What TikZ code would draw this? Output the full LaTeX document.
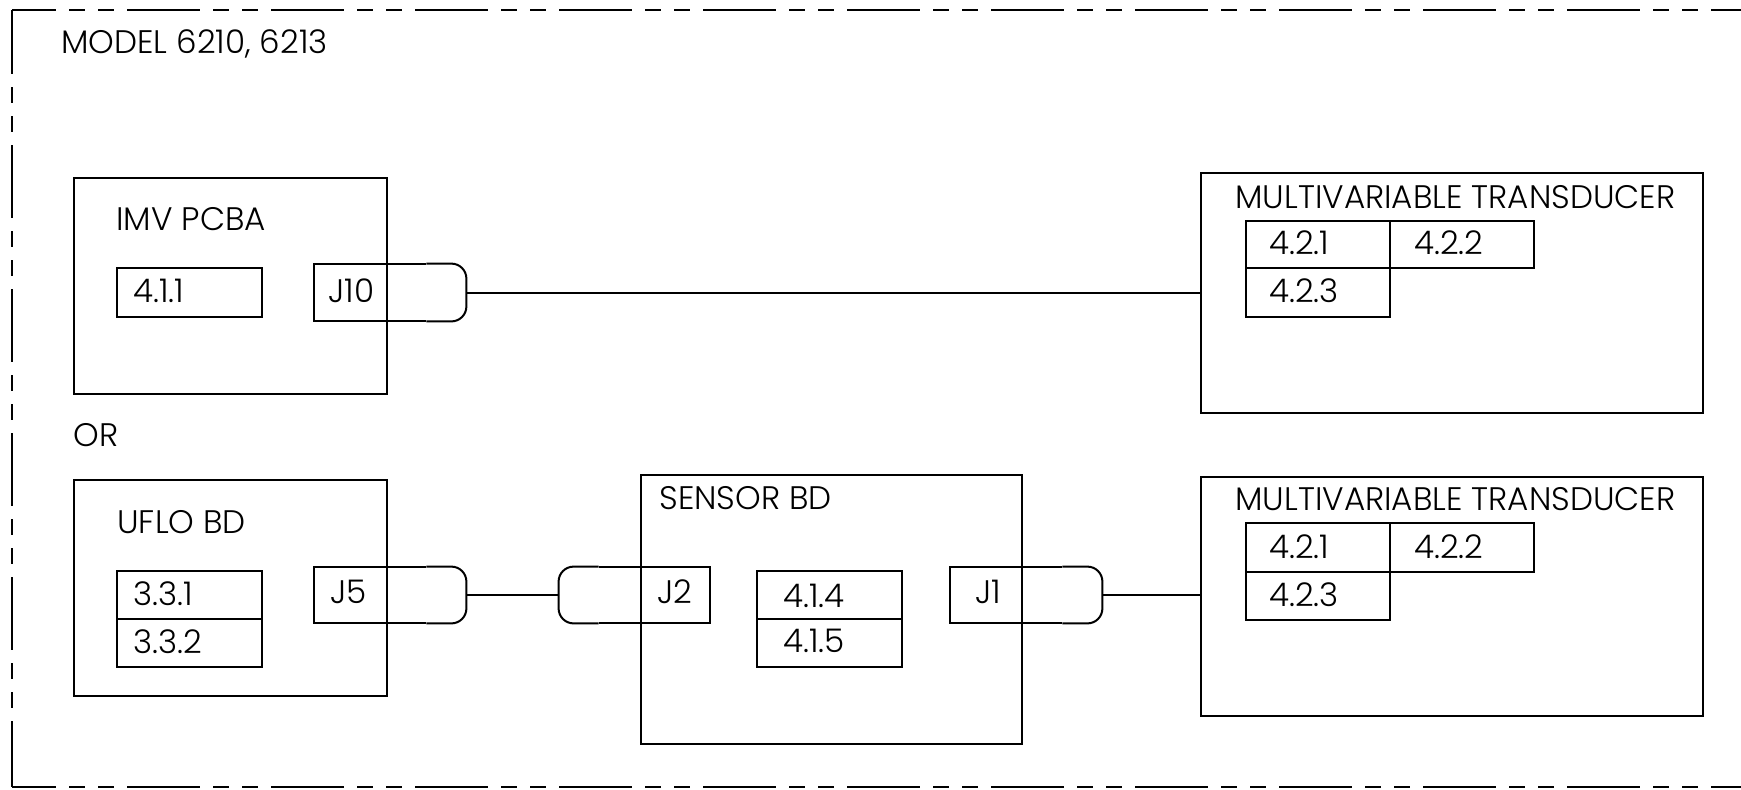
\documentclass[tikz,border=0pt]{standalone}
\usepackage{fontspec}
\IfFontExistsTF{Poppins Light}{\setmainfont{Poppins Light}}{\setmainfont{Poppins}}
\usetikzlibrary{fit}
\begin{document}
\begin{tikzpicture}[x=0.5pt,y=-0.5pt,
  ln/.style={line width=1pt},
  box/.style={draw, line width=1pt, inner sep=0pt, fit={#1}},
  area/.style={inner sep=0pt, fit={#1}},
  lbl/.style={anchor=base west, inner sep=0pt, font=\fontsize{16.3pt}{19pt}\selectfont},
  border/.style={line width=1.1pt, dash pattern=on 36.5pt off 6.5pt on 8pt off 6.5pt on 8pt off 6.5pt}
]
\useasboundingbox (0,0) rectangle (1741,789);
% dashed frame
\draw[border, dash phase=14.5pt] (12,10) -- (1760,10);
\draw[border, dash phase=4.5pt] (12,10) -- (12,787);
\draw[border, dash phase=14.5pt] (12,787) -- (1760,787);
\node[lbl] (tmodel) at (61,53) {MODEL 6210, 6213};
\node[lbl] (tor) at (73,446) {OR};

% IMV PCBA
\node[box={(74,178) (387,394)}] (imv) {};
\node[lbl] (timv) at (116,230) {IMV PCBA};
\node[box={(117,268) (262,317)}] (b411) {};
\node[lbl] (t411) at (133,302) {4.1.1};
\node[area={(314,264) (466,321)}] (j10) {};
\draw[ln] ([xshift=-20pt]j10.north east) -- (j10.north west) -- (j10.south west) -- ([xshift=-20pt]j10.south east);
\draw[ln, rounded corners=7.5pt] ([xshift=-20pt]j10.north east) -- (j10.north east) -- (j10.south east) -- ([xshift=-20pt]j10.south east);
\node[lbl] (tj10) at (328,302) {J10};

% upper transducer
\node[box={(1201,173) (1703,413)}] (mva) {};
\node[lbl] (tmva) at (1235,208) {MULTIVARIABLE TRANSDUCER};
\node[box={(1246,221) (1390,268)}] (a421) {};
\node[box={(1390,221) (1534,268)}] (a422) {};
\node[box={(1246,268) (1390,317)}] (a423) {};
\node[lbl] at (1269,254) {4.2.1};
\node[lbl] at (1414,254) {4.2.2};
\node[lbl] at (1269,302) {4.2.3};
\draw[ln] (j10.east) -- (j10.east -| mva.west);

% UFLO BD
\node[box={(74,480) (387,696)}] (uflo) {};
\node[lbl] (tuflo) at (117,533) {UFLO BD};
\node[box={(117,571) (262,619)}] (b331) {};
\node[box={(117,619) (262,667)}] (b332) {};
\node[lbl] at (133,605) {3.3.1};
\node[lbl] at (133,653) {3.3.2};
\node[area={(314,567) (466,623)}] (j5) {};
\draw[ln] ([xshift=-20pt]j5.north east) -- (j5.north west) -- (j5.south west) -- ([xshift=-20pt]j5.south east);
\draw[ln, rounded corners=7.5pt] ([xshift=-20pt]j5.north east) -- (j5.north east) -- (j5.south east) -- ([xshift=-20pt]j5.south east);
\node[lbl] (tj5) at (330,603) {J5};

% SENSOR BD
\node[box={(641,475) (1022,744)}] (sensor) {};
\node[lbl] (tsensor) at (659,509) {SENSOR BD};
\node[area={(559,567) (710,623)}] (j2) {};
\draw[ln] ([xshift=20pt]j2.north west) -- (j2.north east) -- (j2.south east) -- ([xshift=20pt]j2.south west);
\draw[ln, rounded corners=7.5pt] ([xshift=20pt]j2.north west) -- (j2.north west) -- (j2.south west) -- ([xshift=20pt]j2.south west);
\node[lbl] (tj2) at (657,603) {J2};
\node[box={(757,571) (902,619)}] (b414) {};
\node[box={(757,619) (902,667)}] (b415) {};
\node[lbl] at (783,607) {4.1.4};
\node[lbl] at (783,652) {4.1.5};
\node[area={(950,567) (1102,623)}] (j1) {};
\draw[ln] ([xshift=-20pt]j1.north east) -- (j1.north west) -- (j1.south west) -- ([xshift=-20pt]j1.south east);
\draw[ln, rounded corners=7.5pt] ([xshift=-20pt]j1.north east) -- (j1.north east) -- (j1.south east) -- ([xshift=-20pt]j1.south east);
\node[lbl] (tj1) at (975,603) {J1};
\draw[ln] (j5.east) -- (j2.west);

% lower transducer
\node[box={(1201,477) (1703,716)}] (mvb) {};
\node[lbl] (tmvb) at (1235,510) {MULTIVARIABLE TRANSDUCER};
\node[box={(1246,523) (1390,572)}] (b421) {};
\node[box={(1390,523) (1534,572)}] (b422) {};
\node[box={(1246,572) (1390,620)}] (b423) {};
\node[lbl] at (1269,558) {4.2.1};
\node[lbl] at (1414,558) {4.2.2};
\node[lbl] at (1269,606) {4.2.3};
\draw[ln] (j1.east) -- (j1.east -| mvb.west);
\end{tikzpicture}
\end{document}
